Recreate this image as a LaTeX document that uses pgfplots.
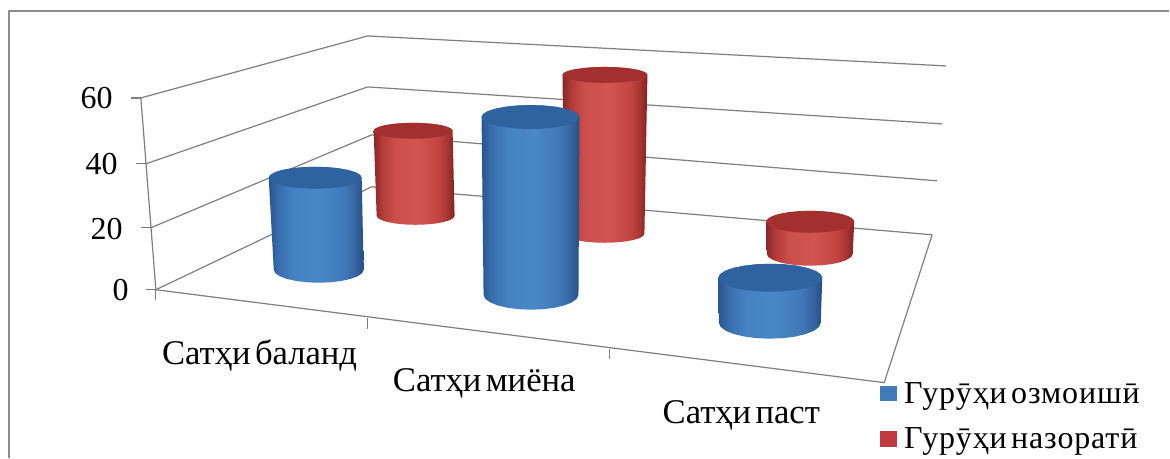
\documentclass[border=0pt]{standalone}
\usepackage{fontspec}
\setmainfont{Liberation Serif}
\newfontfamily\lgfont[LetterSpace=2.7,WordSpace=0.5]{Liberation Serif}
\newfontfamily\catfont[WordSpace=0.5]{Liberation Serif}
\usepackage{pgfplots}
\usepackage{pgfplotstable}
\pgfplotsset{compat=1.18}
\definecolor{gridc}{HTML}{7F7F7F}
\definecolor{framec}{HTML}{8C8C8C}
\definecolor{capB}{HTML}{2F639F}
\definecolor{capR}{HTML}{A3302E}
\definecolor{legB}{HTML}{3F7CB8}
\definecolor{legR}{HTML}{C0393F}
\pgfdeclarehorizontalshading{cylB}{100bp}{
 rgb(0bp)=(0.16,0.33,0.56);
 rgb(25bp)=(0.16,0.33,0.56);
 rgb(30bp)=(0.22,0.43,0.68);
 rgb(38bp)=(0.27,0.51,0.76);
 rgb(52bp)=(0.29,0.53,0.78);
 rgb(65bp)=(0.25,0.47,0.72);
 rgb(71bp)=(0.20,0.39,0.62);
 rgb(75bp)=(0.15,0.30,0.52);
 rgb(100bp)=(0.15,0.30,0.52)}
\pgfdeclarehorizontalshading{cylR}{100bp}{
 rgb(0bp)=(0.53,0.15,0.15);
 rgb(25bp)=(0.53,0.15,0.15);
 rgb(30bp)=(0.70,0.23,0.22);
 rgb(38bp)=(0.80,0.31,0.30);
 rgb(52bp)=(0.82,0.33,0.32);
 rgb(65bp)=(0.76,0.27,0.26);
 rgb(71bp)=(0.64,0.20,0.19);
 rgb(75bp)=(0.50,0.13,0.13);
 rgb(100bp)=(0.50,0.13,0.13)}
% unit outline: lower half at the foot (s=0), upper half at the head (s=1)
\pgfplotstableread{
u v s
-1 0 0
-0.9659 0.2588 0
-0.866 0.5 0
-0.7071 0.7071 0
-0.5 0.866 0
-0.2588 0.9659 0
0 1 0
0.2588 0.9659 0
0.5 0.866 0
0.7071 0.7071 0
0.866 0.5 0
0.9659 0.2588 0
1 0 0
1 0 1
0.9659 -0.2588 1
0.866 -0.5 1
0.7071 -0.7071 1
0.5 -0.866 1
0.2588 -0.9659 1
0 -1 1
-0.2588 -0.9659 1
-0.5 -0.866 1
-0.7071 -0.7071 1
-0.866 -0.5 1
-0.9659 -0.2588 1
-1 0 1
}\unitcyl
% \Cyl{shading}{cap colour}{value}{px per unit}{foot y}{foot cx}{head cx}{foot rx}{head rx}{foot ry}{head ry}
\newcommand\Cyl[9]{\def\CylS{#1}\def\CylC{#2}\def\CylV{#3}\def\CylP{#4}\def\CylY{#5}\def\CylXa{#6}\def\CylXb{#7}\def\CylRa{#8}\def\CylRb{#9}\CylEnd}
\newcommand\CylEnd[2]{%
 \edef\temp{\noexpand\addplot[forget plot,draw=none,shade,shading=\CylS] table[
   x expr={\CylXa+(\CylXb-\CylXa)*\noexpand\thisrow{s}+(\CylRa+(\CylRb-\CylRa)*\noexpand\thisrow{s})*\noexpand\thisrow{u}},
   y expr={\CylY-\noexpand\thisrow{s}*\CylV*\CylP+(#1+(#2-#1)*\noexpand\thisrow{s})*\noexpand\thisrow{v}}] {\noexpand\unitcyl};
  \noexpand\addplot[forget plot,draw=none,fill=\CylC] table[
   x expr={\CylXb+\CylRb*\noexpand\thisrow{u}},
   y expr={\CylY-\CylV*\CylP+#2*\noexpand\thisrow{v}}] {\noexpand\unitcyl};}%
 \temp}
\begin{document}
\begin{tikzpicture}
\begin{axis}[
  scale only axis, width=877.5pt, height=343.5pt,
  xmin=0, xmax=1170, ymin=0, ymax=458, y dir=reverse,
  hide axis, clip=false,
  legend style={at={(axis cs:881,380)},anchor=north west,draw=none,fill=none,
    inner sep=0pt,outer sep=0pt,row sep=13pt,
    font=\lgfont\fontsize{24}{26}\selectfont,
    /tikz/every even column/.append style={column sep=0pt}},
  legend cell align=left,
]
% page and frame
\addplot[forget plot,draw=none,fill=white] coordinates {(0,0)(1170,0)(1170,458)(0,458)};
\addplot[forget plot,framec,line width=1.6pt] coordinates {(1170,11)(9,11)(9,458)};
% grid on the walls
\addplot[forget plot,gridc,line width=0.9pt] coordinates {(141,98)(368,36)(947,66)};
\addplot[forget plot,gridc,line width=0.9pt] coordinates {(146,164)(368,87)(943,124)};
\addplot[forget plot,gridc,line width=0.9pt] coordinates {(151,228)(372,135)(938,181)};
\addplot[forget plot,gridc,line width=0.9pt] coordinates {(156,290)(372,187)(933,235)};
% axes
\addplot[forget plot,gridc,line width=0.9pt] coordinates {(141,98)(156,290)};
\addplot[forget plot,gridc,line width=0.9pt] coordinates {(156,290)(885,383)(933,235)};
\addplot[forget plot,gridc,line width=0.9pt] coordinates {(131,98)(141,98)};
\addplot[forget plot,gridc,line width=0.9pt] coordinates {(136,164)(146,164)};
\addplot[forget plot,gridc,line width=0.9pt] coordinates {(141,228)(151,228)};
\addplot[forget plot,gridc,line width=0.9pt] coordinates {(146,290)(156,290)};
\addplot[forget plot,gridc,line width=0.9pt] coordinates {(156,290)(156,300)};
\addplot[forget plot,gridc,line width=0.9pt] coordinates {(368,318)(368,329)};
\addplot[forget plot,gridc,line width=0.9pt] coordinates {(610,349)(610,359)};
% cylinders: value, px per unit, geometry
\Cyl{cylR}{capR}{27}{3.15}{216}{416}{413.5}{39}{39.5}{9}{8}
\Cyl{cylB}{capB}{27}{3.41}{270}{319}{315.5}{45}{46.5}{13}{11}
\Cyl{cylR}{capR}{50}{3.18}{234}{605}{605.5}{40}{42.5}{9}{8}
\Cyl{cylB}{capB}{52}{3.42}{295}{531.5}{531}{47.5}{49}{15}{12}
\Cyl{cylR}{capR}{10}{3.2}{254}{810.5}{811}{43}{44}{12}{11}
\Cyl{cylB}{capB}{13}{3.46}{323}{770.5}{771}{51}{52}{16}{14}
% tick labels
\node[anchor=east,font=\fontsize{24}{26}\selectfont,inner sep=0pt] at (axis cs:113,98) {60};
\node[anchor=east,font=\fontsize{24}{26}\selectfont,inner sep=0pt] at (axis cs:118,164) {40};
\node[anchor=east,font=\fontsize{24}{26}\selectfont,inner sep=0pt] at (axis cs:123,229) {20};
\node[anchor=east,font=\fontsize{24}{26}\selectfont,inner sep=0pt] at (axis cs:129,290) {0};
\node[anchor=west,font=\catfont\fontsize{26}{28}\selectfont,inner sep=0pt] at (axis cs:162,356) {Сатҳи баланд};
\node[anchor=west,font=\catfont\fontsize{26}{28}\selectfont,inner sep=0pt] at (axis cs:393,384) {Сатҳи миёна};
\node[anchor=west,font=\catfont\fontsize{26}{28}\selectfont,inner sep=0pt] at (axis cs:663,416) {Сатҳи паст};
% legend
\addlegendimage{legend image code/.code={\fill[legB,draw=none] (0pt,-5.5pt) rectangle (12.5pt,6pt);\path[draw=none] (0pt,0pt) -- (16pt,0pt);}}
\addlegendentry{Гурӯҳи озмоишӣ}
\addlegendimage{legend image code/.code={\fill[legR,draw=none] (0pt,-5.5pt) rectangle (12.5pt,6pt);\path[draw=none] (0pt,0pt) -- (16pt,0pt);}}
\addlegendentry{Гурӯҳи назоратӣ}
\end{axis}
\end{tikzpicture}
\end{document}
